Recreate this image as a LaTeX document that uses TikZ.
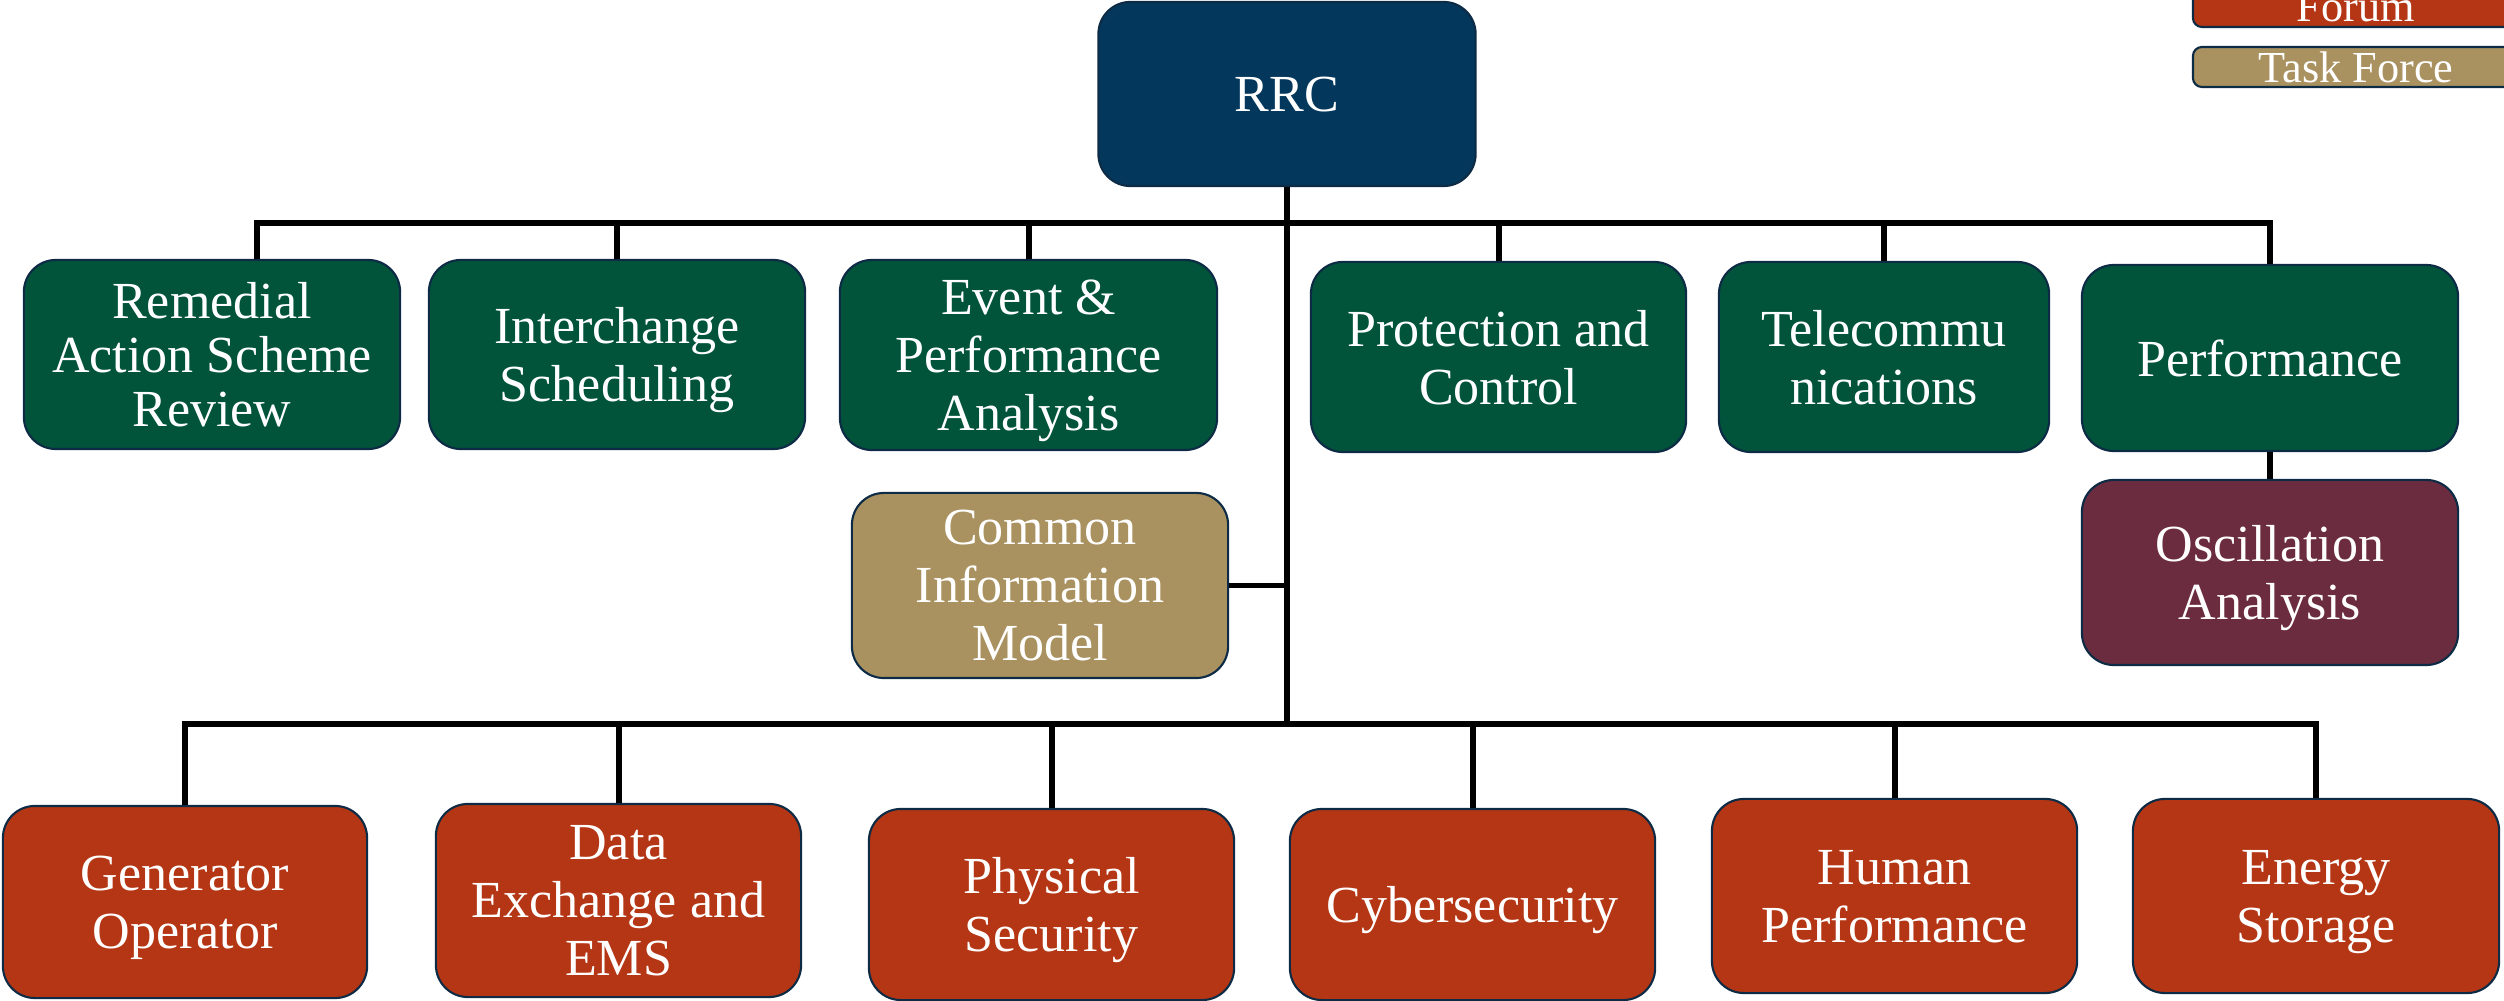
\documentclass[tikz,border=0pt]{standalone}
\usepackage{fontspec}
\setmainfont{Liberation Serif}
\definecolor{navyc}{HTML}{03375C}
\definecolor{greenc}{HTML}{01533A}
\definecolor{tanc}{HTML}{A99160}
\definecolor{redc}{HTML}{B43614}
\definecolor{maroonc}{HTML}{6B2C3F}
\definecolor{bordc}{HTML}{0D2B45}
\tikzset{
  box/.style={draw=bordc, line width=0.6pt, rounded corners=0.32cm, text=white,
    align=center, inner sep=0pt, text depth=0pt, font=\fontsize{14.8}{16.5}\selectfont},
  nbox/.style={box, fill=navyc},
  gbox/.style={box, fill=greenc},
  tbox/.style={box, fill=tanc},
  rbox/.style={box, fill=redc},
  mbox/.style={box, fill=maroonc},
  legbox/.style={draw=bordc, line width=0.6pt, rounded corners=0.09cm, text=white,
    inner sep=0pt, font=\fontsize{12.6}{14}\selectfont, minimum width=3.26cm, minimum height=0.40cm},
  conn/.style={draw=black, line width=1.7pt, line join=miter}
}
\begin{document}
\begin{tikzpicture}[x=0.01cm,y=-0.01cm]
\useasboundingbox (0,0) rectangle (2504,1001);
% legend
\node[legbox, fill=redc] (forum) at (2356,7) {Forum};
\node[legbox, fill=tanc] (taskf) at (2356,67) {Task Force};
% top
\node[nbox, minimum width=3.77cm, minimum height=1.84cm] (rrc) at (1287,94) {RRC};
% green row
\node[gbox, minimum width=3.76cm, minimum height=1.89cm, font=\fontsize{14.8}{15.3}\selectfont] (rem) at (212,354.5) {Remedial\\Action Scheme\\Review};
\node[gbox, minimum width=3.76cm, minimum height=1.89cm] (inter) at (617,354.5) {Interchange\\Scheduling};
\node[gbox, minimum width=3.77cm, minimum height=1.90cm] (event) at (1028.5,355) {Event \&\\Performance\\Analysis};
\node[gbox, minimum width=3.75cm, minimum height=1.90cm] (prot) at (1498.5,357) {Protection and\\Control};
\node[gbox, minimum width=3.30cm, minimum height=1.90cm] (tele) at (1884,357) {Telecommu\\nications};
\node[gbox, minimum width=3.76cm, minimum height=1.86cm] (perf) at (2270,358) {Performance};
\node[mbox, minimum width=3.76cm, minimum height=1.85cm] (osc) at (2270,572.5) {Oscillation\\Analysis};
\node[tbox, minimum width=3.76cm, minimum height=1.85cm] (cim) at (1040,585.5) {Common\\Information\\Model};
% red row
\node[rbox, minimum width=3.64cm, minimum height=1.92cm] (gen) at (185,902) {Generator\\Operator};
\node[rbox, minimum width=3.65cm, minimum height=1.93cm] (data) at (618.5,900.5) {Data\\Exchange and\\EMS};
\node[rbox, minimum width=3.65cm, minimum height=1.91cm] (phys) at (1051.5,904.5) {Physical\\Security};
\node[rbox, minimum width=3.65cm, minimum height=1.91cm] (cyber) at (1472.5,904.5) {Cybersecurity};
\node[rbox, minimum width=3.65cm, minimum height=1.94cm] (human) at (1894.5,896) {Human\\Performance};
\node[rbox, minimum width=3.66cm, minimum height=1.94cm] (energy) at (2316,896) {Energy\\Storage};
% bus coordinates
\coordinate (tb1) at (257,223);
\coordinate (tb6) at (2270,223);
\coordinate (bb1) at (185,724);
\coordinate (bb6) at (2316,724);
% trunk
\draw[conn] (rrc.south) -- (rrc.south |- bb1);
% top bus
\draw[conn] (rem.north -| tb1) -- (tb1) -- (tb6) -- (perf.north);
\draw[conn] (inter.north) -- (inter.north |- tb1);
\draw[conn] (event.north) -- (event.north |- tb1);
\draw[conn] (prot.north) -- (prot.north |- tb1);
\draw[conn] (tele.north) -- (tele.north |- tb1);
\draw[conn] (perf.south) -- (osc.north);
% CIM
\draw[conn] (cim.east) -- (cim.east -| rrc.south);
% bottom bus
\draw[conn] (gen.north) -- (bb1) -- (bb6) -- (energy.north);
\draw[conn] (data.north) -- (data.north |- bb1);
\draw[conn] (phys.north) -- (phys.north |- bb1);
\draw[conn] (cyber.north) -- (cyber.north |- bb1);
\draw[conn] (human.north) -- (human.north |- bb1);
\end{tikzpicture}
\end{document}
